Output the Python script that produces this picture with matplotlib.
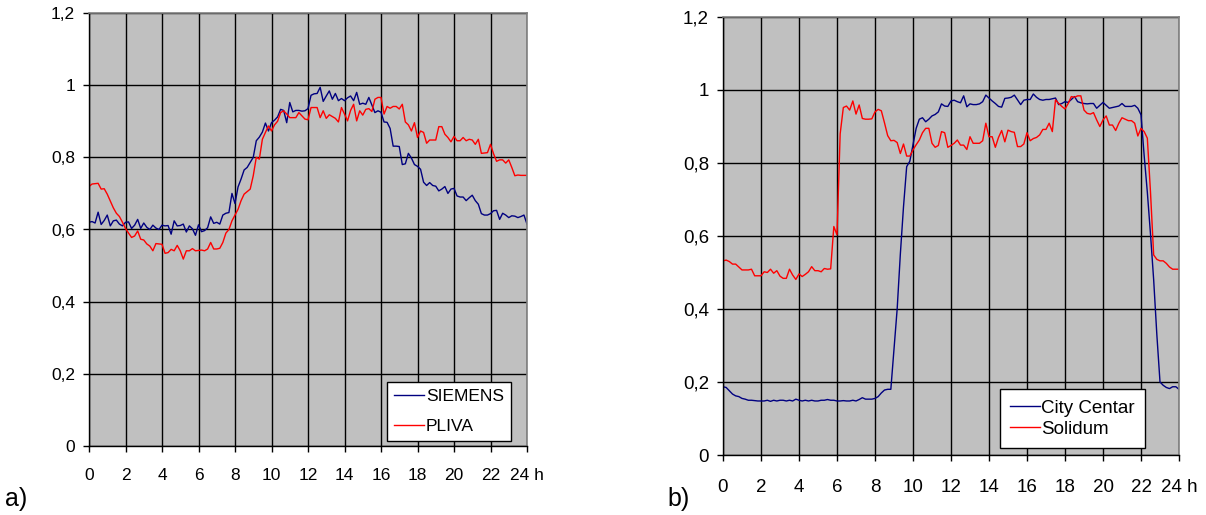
import numpy as np
import matplotlib
matplotlib.use("Agg")
import matplotlib.pyplot as plt
from matplotlib.ticker import FixedLocator

plt.rcParams["font.family"] = ["Liberation Sans", "DejaVu Sans"]

# 10-minute samples over one day (6 per hour, 0..24 h)
hours = np.arange(145) / 6.0

siemens = [
    0.620, 0.622, 0.618, 0.648, 0.614, 0.625,
    0.640, 0.610, 0.624, 0.626, 0.615, 0.610,
    0.620, 0.621, 0.603, 0.612, 0.628, 0.603,
    0.618, 0.606, 0.600, 0.612, 0.604, 0.600,
    0.612, 0.610, 0.611, 0.587, 0.624, 0.610,
    0.611, 0.615, 0.593, 0.610, 0.602, 0.584,
    0.613, 0.594, 0.597, 0.605, 0.635, 0.617,
    0.620, 0.615, 0.640, 0.645, 0.647, 0.700,
    0.672, 0.718, 0.740, 0.765, 0.772, 0.786,
    0.800, 0.846, 0.856, 0.870, 0.895, 0.873,
    0.896, 0.903, 0.912, 0.933, 0.930, 0.896,
    0.952, 0.926, 0.930, 0.930, 0.928, 0.929,
    0.935, 0.972, 0.976, 0.977, 0.994, 0.955,
    0.970, 0.984, 0.961, 0.977, 0.957, 0.963,
    0.957, 0.965, 0.970, 0.957, 0.980, 0.947,
    0.950, 0.947, 0.966, 0.945, 0.924, 0.929,
    0.925, 0.898, 0.897, 0.880, 0.831, 0.831,
    0.830, 0.780, 0.782, 0.811, 0.798, 0.780,
    0.775, 0.767, 0.731, 0.722, 0.730, 0.722,
    0.720, 0.707, 0.712, 0.719, 0.700, 0.712,
    0.714, 0.693, 0.690, 0.690, 0.680, 0.688,
    0.695, 0.680, 0.670, 0.644, 0.640, 0.640,
    0.644, 0.652, 0.653, 0.628, 0.645, 0.640,
    0.633, 0.638, 0.637, 0.633, 0.636, 0.640,
    0.615,
]

pliva = [
    0.719, 0.726, 0.727, 0.728, 0.712, 0.713,
    0.698, 0.679, 0.660, 0.645, 0.636, 0.620,
    0.603, 0.590, 0.578, 0.582, 0.596, 0.573,
    0.571, 0.560, 0.554, 0.541, 0.561, 0.560,
    0.559, 0.534, 0.536, 0.545, 0.541, 0.556,
    0.541, 0.518, 0.541, 0.541, 0.547, 0.541,
    0.542, 0.543, 0.541, 0.546, 0.564, 0.546,
    0.546, 0.548, 0.564, 0.590, 0.600, 0.624,
    0.640, 0.656, 0.680, 0.698, 0.705, 0.712,
    0.749, 0.800, 0.795, 0.850, 0.869, 0.887,
    0.873, 0.890, 0.900, 0.924, 0.929, 0.920,
    0.910, 0.910, 0.910, 0.924, 0.915, 0.906,
    0.904, 0.938, 0.938, 0.938, 0.910, 0.929,
    0.908, 0.918, 0.913, 0.908, 0.898, 0.938,
    0.920, 0.901, 0.930, 0.947, 0.901, 0.929,
    0.917, 0.933, 0.935, 0.927, 0.961, 0.966,
    0.966, 0.920, 0.941, 0.936, 0.941, 0.941,
    0.934, 0.947, 0.898, 0.890, 0.873, 0.896,
    0.855, 0.873, 0.869, 0.839, 0.848, 0.848,
    0.848, 0.885, 0.885, 0.864, 0.855, 0.843,
    0.858, 0.846, 0.846, 0.855, 0.846, 0.850,
    0.848, 0.836, 0.850, 0.811, 0.812, 0.813,
    0.836, 0.810, 0.789, 0.793, 0.793, 0.784,
    0.793, 0.772, 0.749, 0.751, 0.750, 0.750,
    0.750,
]

city_centar = [
    0.187, 0.185, 0.176, 0.167, 0.162, 0.160,
    0.155, 0.153, 0.150, 0.150, 0.149, 0.148,
    0.148, 0.148, 0.150, 0.147, 0.150, 0.148,
    0.150, 0.150, 0.148, 0.150, 0.148, 0.153,
    0.150, 0.148, 0.150, 0.148, 0.150, 0.148,
    0.148, 0.150, 0.150, 0.152, 0.150, 0.150,
    0.148, 0.148, 0.149, 0.148, 0.148, 0.150,
    0.148, 0.152, 0.157, 0.153, 0.153, 0.153,
    0.155, 0.160, 0.170, 0.178, 0.180, 0.180,
    0.290, 0.400, 0.550, 0.680, 0.790, 0.805,
    0.850, 0.895, 0.920, 0.924, 0.913, 0.920,
    0.929, 0.933, 0.940, 0.962, 0.956, 0.955,
    0.970, 0.972, 0.968, 0.965, 0.984, 0.954,
    0.962, 0.960, 0.960, 0.962, 0.968, 0.986,
    0.978, 0.970, 0.963, 0.955, 0.953, 0.977,
    0.978, 0.980, 0.986, 0.973, 0.960, 0.972,
    0.974, 0.974, 0.989, 0.980, 0.974, 0.972,
    0.974, 0.974, 0.976, 0.978, 0.960, 0.963,
    0.968, 0.966, 0.974, 0.982, 0.968, 0.965,
    0.963, 0.962, 0.963, 0.963, 0.950, 0.958,
    0.966, 0.958, 0.950, 0.952, 0.954, 0.956,
    0.963, 0.955, 0.955, 0.955, 0.958, 0.950,
    0.932, 0.820, 0.720, 0.605, 0.480, 0.330,
    0.200, 0.191, 0.185, 0.182, 0.187, 0.187,
    0.180,
]

solidum = [
    0.532, 0.534, 0.530, 0.523, 0.523, 0.515,
    0.507, 0.507, 0.507, 0.509, 0.491, 0.491,
    0.491, 0.502, 0.500, 0.509, 0.498, 0.505,
    0.490, 0.484, 0.484, 0.509, 0.493, 0.481,
    0.496, 0.489, 0.495, 0.502, 0.516, 0.505,
    0.505, 0.502, 0.511, 0.509, 0.510, 0.626,
    0.603, 0.880, 0.952, 0.956, 0.945, 0.970,
    0.934, 0.959, 0.922, 0.920, 0.920, 0.921,
    0.940, 0.947, 0.943, 0.910, 0.875, 0.861,
    0.862, 0.856, 0.826, 0.852, 0.819, 0.819,
    0.836, 0.850, 0.863, 0.883, 0.895, 0.895,
    0.854, 0.843, 0.848, 0.886, 0.883, 0.843,
    0.848, 0.854, 0.863, 0.849, 0.849, 0.837,
    0.872, 0.854, 0.854, 0.854, 0.861, 0.909,
    0.872, 0.872, 0.843, 0.870, 0.889, 0.858,
    0.890, 0.886, 0.884, 0.845, 0.845, 0.852,
    0.883, 0.861, 0.867, 0.870, 0.877, 0.892,
    0.892, 0.909, 0.886, 0.973, 0.963, 0.955,
    0.948, 0.963, 0.982, 0.980, 0.984, 0.984,
    0.945, 0.936, 0.934, 0.938, 0.918, 0.900,
    0.918, 0.929, 0.904, 0.904, 0.889, 0.909,
    0.924, 0.920, 0.916, 0.916, 0.909, 0.874,
    0.895, 0.886, 0.868, 0.720, 0.548, 0.536,
    0.532, 0.532, 0.525, 0.515, 0.509, 0.509,
    0.509,
]

x_ticks = list(range(0, 25, 2))
x_labels = [str(v) for v in x_ticks[:-1]] + ["24 h"]
y_ticks = [0, 0.2, 0.4, 0.6, 0.8, 1.0, 1.2]
y_labels = ["0", "0,2", "0,4", "0,6", "0,8", "1", "1,2"]

NAVY = "#000080"
RED = "#ff0000"
PLOT_BG = "#c0c0c0"

W, H = 1206, 515
fig = plt.figure(figsize=(W / 100, H / 100), dpi=100)


def make_axes(x0, x1, y_top, y_bottom):
    return fig.add_axes([x0 / W, 1 - y_bottom / H, (x1 - x0) / W, (y_bottom - y_top) / H])


def style(ax, fsize, xpad):
    ax.set_facecolor(PLOT_BG)
    ax.set_xlim(0, 24)
    ax.set_ylim(0, 1.2)
    ax.xaxis.set_major_locator(FixedLocator(x_ticks))
    ax.set_xticklabels(x_labels)
    ax.yaxis.set_major_locator(FixedLocator(y_ticks))
    ax.set_yticklabels(y_labels)
    ax.grid(True, color="black", linewidth=1.0)
    ax.set_axisbelow(True)
    for side in ("top", "right"):
        ax.spines[side].set_color("#808080")
        ax.spines[side].set_linewidth(1.2)
    for side in ("left", "bottom"):
        ax.spines[side].set_color("black")
        ax.spines[side].set_linewidth(1.0)
    ax.tick_params(axis="x", direction="out", length=4, width=1, pad=xpad,
                   labelsize=fsize, colors="black")
    ax.tick_params(axis="y", direction="out", length=4, width=1, pad=6,
                   labelsize=fsize, colors="black")


# Panel a): industrial consumers
ax_a = make_axes(89, 527, 13, 446)
style(ax_a, 12.5, 12)
ax_a.plot(hours, siemens, color=NAVY, linewidth=1.0, label="SIEMENS")
ax_a.plot(hours, pliva, color=RED, linewidth=1.0, label="PLIVA")
leg_a = ax_a.legend(loc="lower left", bbox_to_anchor=(0.68, 0.0115),
                    frameon=True, fancybox=False, framealpha=1.0,
                    edgecolor="black", fontsize=12.5, handlelength=1.75,
                    handletextpad=0.1, borderpad=0.4, labelspacing=0.85,
                    borderaxespad=0)
leg_a.get_frame().set_linewidth(1.0)

# Panel b): commercial consumers
ax_b = make_axes(723, 1179, 17, 455)
style(ax_b, 13.5, 13)
ax_b.plot(hours, city_centar, color=NAVY, linewidth=1.0, label="City Centar")
ax_b.plot(hours, solidum, color=RED, linewidth=1.0, label="Solidum")
leg_b = ax_b.legend(loc="lower left", bbox_to_anchor=(0.607, 0.016),
                    frameon=True, fancybox=False, framealpha=1.0,
                    edgecolor="black", fontsize=13.5, handlelength=1.6,
                    handletextpad=0.05, borderpad=0.55, labelspacing=0.2,
                    borderaxespad=0)
leg_b.get_frame().set_linewidth(1.0)

fig.text(5 / W, 1 - 499 / H, "a)", fontsize=18, va="center", ha="left")
fig.text(667 / W, 1 - 499 / H, "b)", fontsize=18, va="center", ha="left")

fig.savefig("out.png", dpi=100, facecolor="white")
